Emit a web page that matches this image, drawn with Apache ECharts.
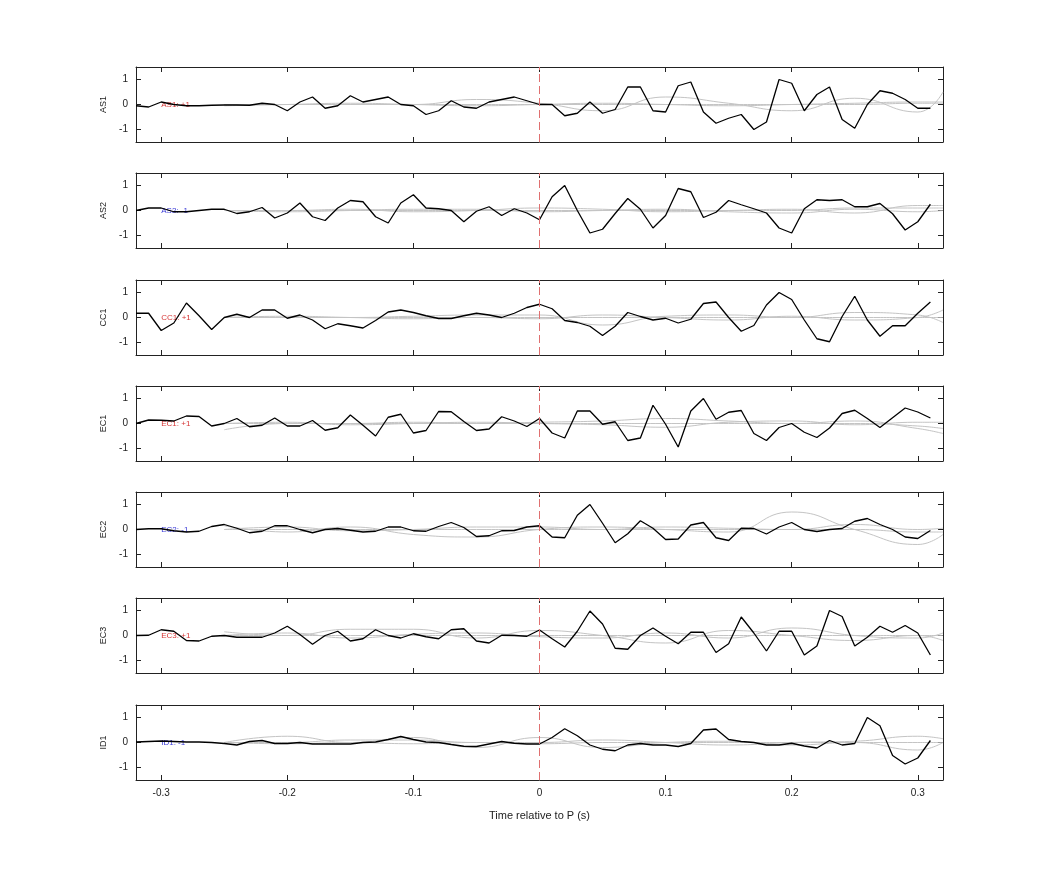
<!DOCTYPE html>
<html><head><meta charset="utf-8">
<script src="https://cdn.jsdelivr.net/npm/echarts@6/dist/echarts.min.js"></script>
<style>html,body{margin:0;padding:0;background:#fff}#c{width:1042px;height:875px}</style>
</head><body><div id="c"></div>
<script>
const times = [];
for (let i = -32; i <= 31; i++) times.push(+(i/100).toFixed(2));
const stations = ['AS1','AS2','CC1','EC1','EC2','EC3','ID1'];
const polarityText = ['AS1: +1','AS2: -1','CC1: +1','EC1: +1','EC2: -1','EC3: +1','ID1: -1'];
const polarityColor = ['#cc0000','#0000cc','#cc0000','#cc0000','#0000cc','#cc0000','#0000cc'];
const AS1 = [-0.05,-0.1,0.1,0,-0.05,-0.05,-0.03,-0.02,-0.02,-0.03, 0.05,0,-0.25,0.1,0.3,-0.15,-0.05,0.35,0.1,0.2, 0.3,0,-0.05,-0.4,-0.25,0.15,-0.1,-0.15,0.1,0.2, 0.3,0.15,0,0,-0.45,-0.35,0.1,-0.35,-0.2,0.7, 0.7,-0.25,-0.3,0.75,0.9,-0.3,-0.75,-0.55,-0.4,-1.0, -0.7,1.0,0.85,-0.25,0.4,0.7,-0.6,-0.95,0,0.55, 0.45,0.2,-0.15,-0.15];
const AS2 = [0,0.1,0.1,-0.05,-0.05,0,0.05,0.05,-0.12,-0.05, 0.12,-0.3,-0.1,0.3,-0.25,-0.4,0.1,0.4,0.35,-0.25, -0.5,0.3,0.63,0.1,0.07,0,-0.45,-0.03,0.15,-0.2, 0.07,-0.1,-0.37,0.55,1.0,0,-0.9,-0.75,-0.12,0.48, 0.05,-0.7,-0.2,0.88,0.75,-0.28,-0.07,0.4,0.23,0.07, -0.1,-0.7,-0.9,0.07,0.43,0.4,0.43,0.15,0.15,0.28, -0.13,-0.78,-0.45,0.25];
const CC1 = [0.17,0.17,-0.52,-0.22,0.58,0.07,-0.48,0,0.13,0, 0.3,0.3,-0.03,0.1,-0.1,-0.45,-0.25,-0.33,-0.42,-0.12, 0.22,0.3,0.2,0.07,-0.04,-0.04,0.07,0.17,0.1,0, 0.17,0.4,0.53,0.35,-0.12,-0.2,-0.35,-0.72,-0.35,0.2, 0.04,-0.1,-0.03,-0.22,-0.07,0.56,0.62,0,-0.55,-0.32, 0.5,1.0,0.72,-0.1,-0.85,-0.97,0.04,0.85,-0.1,-0.75, -0.33,-0.33,0.17,0.62];
const EC1 = [0,0.14,0.13,0.1,0.3,0.28,-0.1,0,0.2,-0.13, -0.07,0.22,-0.1,-0.1,0.12,-0.27,-0.17,0.34,-0.07,-0.5, 0.25,0.37,-0.38,-0.28,0.48,0.47,0.08,-0.28,-0.22,0.27, 0.1,-0.12,0.2,-0.38,-0.58,0.5,0.5,-0.03,0.07,-0.68, -0.58,0.73,-0.03,-0.94,0.5,1.0,0.17,0.45,0.52,-0.4, -0.68,-0.16,0,-0.35,-0.56,-0.18,0.4,0.53,0.2,-0.16, 0.23,0.62,0.46,0.22];
const EC2 = [0,0.03,0.03,-0.05,-0.1,-0.07,0.12,0.2,0.05,-0.13, -0.07,0.15,0.15,0,-0.13,0,0.04,-0.03,-0.1,-0.07, 0.1,0.1,-0.05,-0.07,0.12,0.28,0.08,-0.28,-0.25,-0.05, -0.04,0.1,0.15,-0.3,-0.33,0.57,1.0,0.25,-0.53,-0.17, 0.35,0.05,-0.4,-0.38,0.18,0.28,-0.33,-0.44,0.05,0.04, -0.18,0.1,0.28,0,-0.08,0,0.04,0.33,0.44,0.2, 0,-0.3,-0.36,-0.04];
const EC3 = [0,0.01,0.23,0.17,-0.2,-0.22,-0.03,0,-0.07,-0.07, -0.07,0.1,0.37,0.04,-0.35,0,0.17,-0.22,-0.13,0.23, 0,-0.1,0.07,-0.05,-0.13,0.23,0.27,-0.22,-0.3,0.01, 0,-0.03,0.22,-0.13,-0.46,0.17,0.98,0.46,-0.51,-0.55, 0,0.3,-0.03,-0.33,0.13,0.13,-0.68,-0.33,0.74,0.1, -0.62,0.17,0.17,-0.78,-0.42,1.0,0.76,-0.42,-0.07,0.37, 0.13,0.4,0.1,-0.78];
const ID1 = [0.02,0.04,0.06,0.04,0.02,0.02,0,-0.04,-0.1,0.04, 0.08,-0.04,-0.04,0,-0.06,-0.06,-0.06,-0.06,0,0.02, 0.12,0.24,0.12,0.02,0,-0.08,-0.15,-0.16,-0.06,0.04, -0.03,-0.06,-0.06,0.2,0.55,0.27,-0.1,-0.27,-0.33,-0.1, -0.04,-0.1,-0.1,-0.16,-0.04,0.5,0.54,0.12,0.04,0, -0.1,-0.1,-0.03,-0.14,-0.22,0.08,-0.1,-0.04,1.0,0.67, -0.52,-0.86,-0.62,0.08];
const black = [AS1,AS2,CC1,EC1,EC2,EC3,ID1];
// synthetic comparison traces (grey), sampled every 0.05 s from -0.25 to 0.30, plus 0.32
const grayT = [-0.25,-0.2,-0.15,-0.1,-0.05,0,0.05,0.1,0.15,0.2,0.25,0.3,0.32];
const AS1g1 = [0,0,0,0,0.2,0.05,-0.25,0.3,0.05,-0.25,0.25,-0.3,0.5];
const AS1g2 = [-0.05,0,0.05,0,-0.05,0,0.05,0,-0.05,0,0.05,0.1,0.1];
const AS1g3 = [0,0,0,0,0,0,0,0,0,0,0,0.05,0.05];
const AS2g1 = [0,0,0.05,-0.05,0,0.1,0.05,-0.05,0,0.05,-0.1,0.2,0.2];
const AS2g2 = [0,-0.05,0,0.05,0.05,-0.05,0,0.05,-0.05,-0.1,0.05,-0.05,0];
const AS2g3 = [0,0,0,0,0,0,0,0,0,0,0.1,0.1,0.1];
const CC1g1 = [0,0,0,0.05,0.1,0.1,-0.3,0.05,0.1,0,0.2,0.1,-0.2];
const CC1g2 = [0,0.05,0,-0.05,0,-0.05,0.1,0,-0.1,0.05,-0.1,0,0.3];
const CC1g3 = [0,0,0,0,0,0,0,0,0,0,0,0,0];
const EC1g1 = [-0.25,0,0,0.05,0,0.05,0.1,0.2,0.1,0,0.1,-0.2,-0.4];
const EC1g2 = [0,0.05,-0.05,0,0.05,0,-0.05,-0.15,0.05,0.1,-0.05,0.05,0.05];
const EC1g3 = [0,0,0,0,0,0,0,0,0,0,0,-0.1,-0.2];
const EC2g1 = [0.15,-0.1,0.1,-0.2,-0.3,0,0.1,0,-0.1,0.7,0,-0.6,-0.2];
const EC2g2 = [0,0.1,-0.05,0,0.1,0.1,0,0.1,0.05,0,0.2,0,0.05];
const EC2g3 = [0,0,0,0,0,0,0,0,0,0,0,-0.1,-0.1];
const EC3g1 = [0.15,0,0.25,0.25,-0.1,0.2,0,-0.3,0.2,0,-0.2,0,-0.2];
const EC3g2 = [0,0.1,-0.1,0.05,0.1,-0.05,-0.1,0.1,-0.1,0.3,0,-0.1,0.1];
const EC3g3 = [0,0,0,0,0,0,0,0,0,0,0,0,0];
const ID1g1 = [0,0.25,0,0.2,-0.2,0.2,-0.2,0,0.05,-0.1,0,-0.3,0];
const ID1g2 = [0,0,0.1,0.1,0,0,0.1,0,-0.1,0,0.05,0.25,0.15];
const ID1g3 = [0,-0.05,0,-0.05,0,-0.05,0,0,0,0,0,0,0];
const grays = [[AS1g1,AS1g2,AS1g3],[AS2g1,AS2g2,AS2g3],[CC1g1,CC1g2,CC1g3],[EC1g1,EC1g2,EC1g3],[EC2g1,EC2g2,EC2g3],[EC3g1,EC3g2,EC3g3],[ID1g1,ID1g2,ID1g3]];
const yTicks = [-1,0,1];
const xTickLabels = [-0.3,-0.2,-0.1,0,0.1,0.2,0.3];

const tops = [67,173,280,386,492,598,705];
const grid=[],xAxis=[],yAxis=[],series=[];
const font = 'Liberation Sans, Arial, sans-serif';
tops.forEach((t,i)=>{
  grid.push({left:136,right:99,top:t,height:75});
  const last = i===tops.length-1;
  const lineS = {show:true,lineStyle:{color:'#222',width:1}};
  xAxis.push({type:'value',gridIndex:i,min:-0.32,max:0.32,interval:0.1,position:'bottom',
    axisLine:{...lineS,onZero:false},axisTick:{show:true,inside:true,length:5,lineStyle:{color:'#222'},customValues:xTickLabels},
    axisLabel:{show:last,color:'#222',fontSize:10,fontFamily:font,customValues:xTickLabels,formatter:v=>String(+v.toFixed(1))},
    splitLine:{show:false},
    name:last?'Time relative to P (s)':'',nameLocation:'middle',nameGap:30,nameTextStyle:{color:'#222',fontSize:11,fontFamily:font}});
  xAxis.push({type:'value',gridIndex:i,min:-0.32,max:0.32,position:'top',
    axisLine:{...lineS,onZero:false},axisTick:{show:true,inside:true,length:5,lineStyle:{color:'#222'},customValues:xTickLabels},
    axisLabel:{show:false},splitLine:{show:false}});
  yAxis.push({type:'value',gridIndex:i,min:-1.5,max:1.5,position:'left',
    axisLine:{...lineS,onZero:false},axisTick:{show:true,inside:true,length:5,lineStyle:{color:'#222'},customValues:yTicks},
    axisLabel:{color:'#222',fontSize:10,fontFamily:font,customValues:yTicks,margin:8},splitLine:{show:false},
    name:stations[i],nameLocation:'middle',nameGap:28,nameRotate:90,nameTextStyle:{color:'#222',fontSize:9,fontFamily:font}});
  yAxis.push({type:'value',gridIndex:i,min:-1.5,max:1.5,position:'right',
    axisLine:{...lineS,onZero:false},axisTick:{show:true,inside:true,length:5,lineStyle:{color:'#222'},customValues:yTicks},
    axisLabel:{show:false},splitLine:{show:false}});
  grays[i].forEach(g=>{
    series.push({type:'line',xAxisIndex:2*i,yAxisIndex:2*i,data:grayT.map((x,k)=>[x,g[k]]),
      smooth:0.5,showSymbol:false,silent:true,lineStyle:{color:'#c4c4c4',width:1}});
  });
  series.push({type:'line',xAxisIndex:2*i,yAxisIndex:2*i,data:times.map((x,k)=>[x,black[i][k]]),
    showSymbol:false,silent:true,lineStyle:{color:'#000',width:1.3},
    markLine:{silent:true,symbol:'none',label:{show:false},lineStyle:{color:'#e07070',type:[8,4],width:1},data:[{xAxis:0}]}});
  series.push({type:'scatter',xAxisIndex:2*i,yAxisIndex:2*i,data:[[-0.3,0]],symbolSize:0,silent:true,
    label:{show:true,position:'right',distance:0,formatter:polarityText[i],color:polarityColor[i],fontSize:8,fontFamily:font}});
});
const chart = echarts.init(document.getElementById('c'));
chart.setOption({animation:false,backgroundColor:'#fff',grid,xAxis,yAxis,series});
</script></body></html>
